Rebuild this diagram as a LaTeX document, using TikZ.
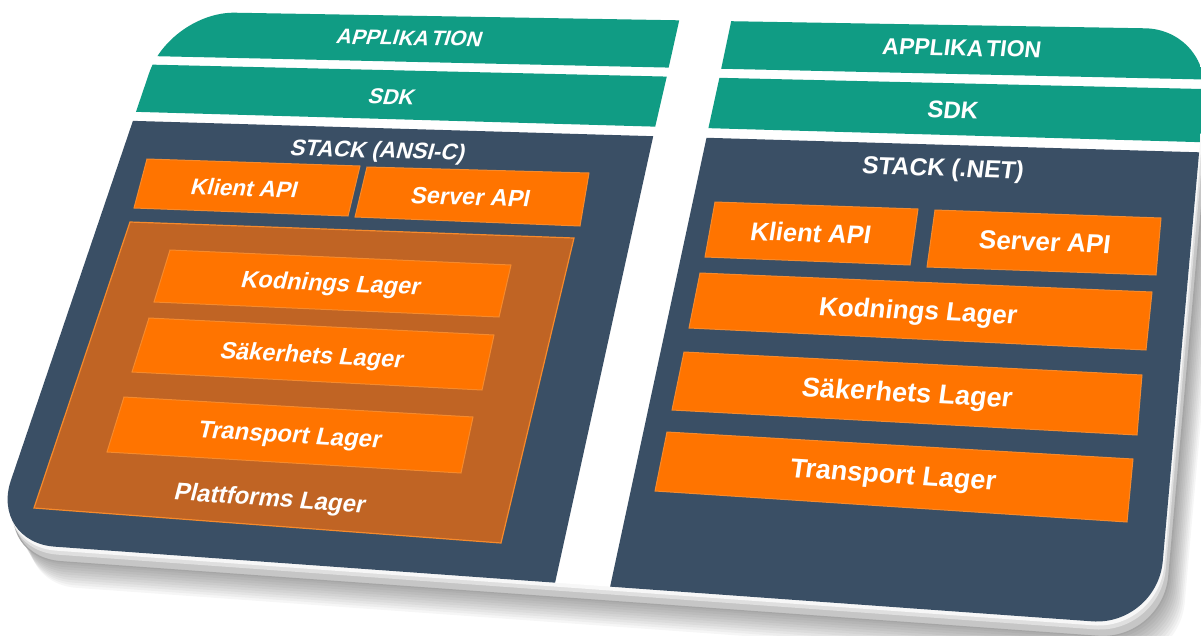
\documentclass[tikz,border=0pt]{standalone}
\usepackage{fontspec}
\setmainfont{Liberation Sans}
\usetikzlibrary{calc}

\definecolor{bandteal}{RGB}{16,156,132}
\definecolor{stackslate}{RGB}{58,79,101}
\definecolor{layerorange}{RGB}{255,116,0}
\definecolor{layeredge}{RGB}{246,138,44}
\definecolor{platformbrown}{RGB}{192,100,36}

% point at fraction (u,v) of the tilted board
\newcommand\uvpt[3]{\coordinate (#1) at ($($(TL)!#2!(TR)$)!#3!($(BL)!#2!(BR)$)$);}
% label set on the tilted board: name, x, y, size, drop, lean, text
\newcommand\tilted[7]{%
  \begin{scope}[shift={(#2,-#3)},cm={1,-#5,#6,1,(0,0)}]
    \node[boxlabel,font=\fontsize{#4}{#4}\selectfont\bfseries,transform shape] (#1) at (0,0) {#7};
  \end{scope}}
\newcommand\boardoutline{(TL) -- (TR) -- (BR) -- (BL) -- cycle}

\tikzset{
  boxlabel/.style={text=white,inner sep=0pt},
  layerbox/.style={fill=layerorange,draw=layeredge,line width=1pt},
  platformbox/.style={fill=platformbrown,draw=layeredge,line width=1.2pt},
  boardround/.style={rounded corners=65pt}
}

\begin{document}
\begin{tikzpicture}[x=1pt,y=1pt]
\useasboundingbox (0,0) rectangle (1201,-635);
\fill[white] (0,0) rectangle (1201,-635);

% board corners (sharp, before rounding)
\coordinate (TL) at (170,-11.6);
\coordinate (TR) at (1210,-29.4);
\coordinate (BR) at (1157,-626);
\coordinate (BL) at (-10,-542);

% soft drop shadow
\foreach \k in {1,...,12}{
  \begin{scope}[transform canvas={shift={({4+1.5*\k},{-10-2.6*\k})}}]
    \fill[black,opacity=0.035,boardround] \boardoutline;
  \end{scope}}
% board thickness
\begin{scope}[transform canvas={shift={(6,-15)}}]
  \fill[gray!45,draw=gray!70,line width=1.2pt,boardround] \boardoutline;
\end{scope}
\begin{scope}[transform canvas={shift={(3,-8)}}]
  \fill[gray!25,boardround] \boardoutline;
\end{scope}
\begin{scope}[transform canvas={shift={(1.5,-4)}}]
  \fill[gray!6,boardround] \boardoutline;
\end{scope}

% band corners
\uvpt{la1}{-0.05}{-0.05} \uvpt{la2}{0.490}{-0.05} \uvpt{la3}{0.489}{0.084} \uvpt{la4}{-0.05}{0.084}
\uvpt{ls1}{-0.05}{0.100} \uvpt{ls2}{0.489}{0.100} \uvpt{ls3}{0.488}{0.189} \uvpt{ls4}{-0.05}{0.189}
\uvpt{lk1}{-0.05}{0.206} \uvpt{lk2}{0.488}{0.206} \uvpt{lk3}{0.484}{1.05} \uvpt{lk4}{-0.05}{1.05}
\uvpt{ra1}{0.540}{-0.05} \uvpt{ra2}{1.05}{-0.05} \uvpt{ra3}{1.05}{0.084} \uvpt{ra4}{0.539}{0.084}
\uvpt{rs1}{0.539}{0.100} \uvpt{rs2}{1.05}{0.100} \uvpt{rs3}{1.05}{0.189} \uvpt{rs4}{0.538}{0.189}
\uvpt{rk1}{0.538}{0.206} \uvpt{rk2}{1.05}{0.206} \uvpt{rk3}{1.05}{1.05} \uvpt{rk4}{0.531}{1.05}

\begin{scope}
  \clip[boardround] \boardoutline;
  \fill[white] (-20,20) rectangle (1220,-660);
  \fill[bandteal] (la1) -- (la2) -- (la3) -- (la4) -- cycle;
  \fill[bandteal] (ls1) -- (ls2) -- (ls3) -- (ls4) -- cycle;
  \fill[stackslate] (lk1) -- (lk2) -- (lk3) -- (lk4) -- cycle;
  \fill[bandteal] (ra1) -- (ra2) -- (ra3) -- (ra4) -- cycle;
  \fill[bandteal] (rs1) -- (rs2) -- (rs3) -- (rs4) -- cycle;
  \fill[stackslate] (rk1) -- (rk2) -- (rk3) -- (rk4) -- cycle;
\end{scope}

% left stack (ANSI-C)
\path[layerbox] (147,-159) -- (360,-166) -- (348,-216) -- (134,-208) -- cycle;
\path[layerbox] (367,-167) -- (589,-173) -- (580,-226) -- (355,-217) -- cycle;
\path[platformbox] (130,-222) -- (574,-238) -- (501,-543) -- (34,-508) -- cycle;
\path[layerbox] (170,-250) -- (511,-265) -- (499,-317) -- (154,-302) -- cycle;
\path[layerbox] (149,-318) -- (494,-335) -- (482,-390) -- (132,-372) -- cycle;
\path[layerbox] (124,-397) -- (473,-417) -- (461,-473) -- (107,-452) -- cycle;

% right stack (.NET)
\path[layerbox] (715,-202) -- (918,-209) -- (910,-265) -- (705,-257) -- cycle;
\path[layerbox] (935,-210) -- (1161,-218) -- (1156,-275) -- (927,-267) -- cycle;
\path[layerbox] (700,-273) -- (1152,-292) -- (1146,-350) -- (689,-328) -- cycle;
\path[layerbox] (684,-352) -- (1142,-375) -- (1137,-435) -- (672,-410) -- cycle;
\path[layerbox] (667,-432) -- (1133,-459) -- (1127,-522) -- (655,-491) -- cycle;

% labels, left column
\tilted{lapp}{410}{38}{21}{0.018}{0.30}{APPLIKA\kern0.12em TION}
\tilted{lsdk}{392}{97}{21.5}{0.022}{0.29}{SDK}
\tilted{lstack}{378}{152}{22.5}{0.028}{0.28}{STACK (ANSI-C)}
\tilted{lklient}{245}{188}{22.5}{0.033}{0.27}{Klient API}
\tilted{lserver}{471}{197}{23.5}{0.034}{0.21}{Server API}
\tilted{lkod}{331}{285}{23.5}{0.044}{0.27}{Kodnings Lager}
\tilted{lsak}{312}{357}{23.5}{0.050}{0.26}{Säkerhets Lager}
\tilted{ltrans}{290}{437}{24}{0.058}{0.25}{Transport Lager}
\tilted{lplat}{270}{500}{24}{0.070}{0.26}{Plattforms Lager}

% labels, right column
\tilted{rapp}{962}{48}{23}{0.020}{0.13}{APPLIKA\kern0.12em TION}
\tilted{rsdk}{953}{110}{24}{0.025}{0.13}{SDK}
\tilted{rstack}{943}{170}{24.5}{0.030}{0.14}{STACK (.NET)}
\tilted{rklient}{811}{233}{25.5}{0.034}{0.16}{Klient API}
\tilted{rserver}{1045}{242}{26}{0.035}{0.12}{Server API}
\tilted{rkod}{918}{313}{26}{0.045}{0.14}{Kodnings Lager}
\tilted{rsak}{907}{395}{27}{0.052}{0.14}{Säkerhets Lager}
\tilted{rtrans}{893}{477}{27}{0.062}{0.14}{Transport Lager}
\end{tikzpicture}
\end{document}
